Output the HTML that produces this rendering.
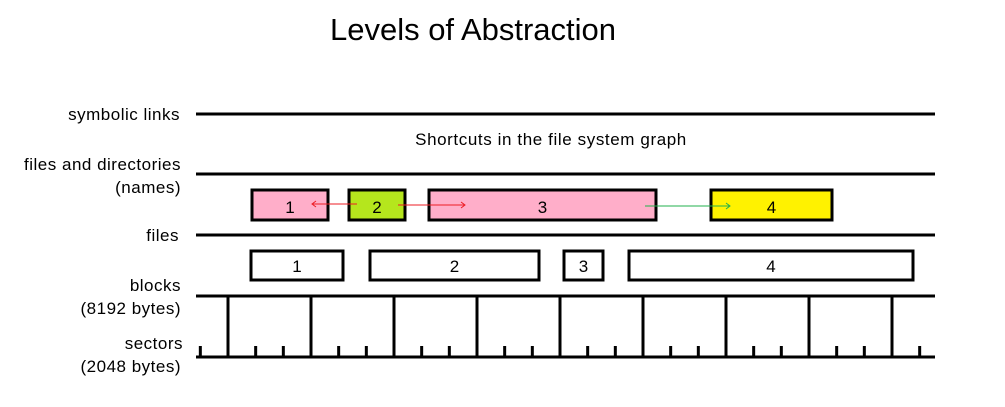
<!DOCTYPE html>
<html><head><meta charset="utf-8"><style>
html,body{margin:0;padding:0;background:#fff;width:1005px;height:407px;overflow:hidden}
svg{display:block;font-family:"Liberation Sans",sans-serif}
</style></head><body>
<svg id="chart" width="1005" height="407" viewBox="0 0 1005 407">
<text x="473" y="40" font-size="31" text-anchor="middle" fill="#000">Levels of Abstraction</text>
<g id="labels" font-size="17" fill="#000" text-anchor="end" letter-spacing="0.5">
<text x="180" y="120">symbolic links</text>
<text x="181" y="170">files and directories</text>
<text x="181" y="193">(names)</text>
<text x="179" y="241">files</text>
<text x="181" y="291">blocks</text>
<text x="181" y="314">(8192 bytes)</text>
<text x="183" y="349">sectors</text>
<text x="181" y="372">(2048 bytes)</text>
</g>
<text x="551" y="145" font-size="17" letter-spacing="0.6" text-anchor="middle">Shortcuts in the file system graph</text>
<g id="g"></g>
</svg>
<script>
const levelLinesY=[114,174,235,296,357];
const fileLabels=["1","2","3","4"];
const fileStart=[252,349,429,711];
const fileEnd=[328,405,656,832];
const fileColors=["#ffaec9","#b5e61d","#ffaec9","#fff200"];
const blockLabels=["1","2","3","4"];
const blockStart=[251,370,564,629];
const blockEnd=[343,539,603,913];
const blockCount=9, sectorsPerBlock=3;
const ns="http://www.w3.org/2000/svg";
const g=document.getElementById('g');
function mk(t,a){const e=document.createElementNS(ns,t);for(const k in a)e.setAttribute(k,a[k]);g.appendChild(e);return e;}
levelLinesY.forEach((y,i)=>{const l=mk('line',{x1:196,x2:935,y1:y,y2:y,stroke:'#000','stroke-width':3});

});
const bw=83;
for(let i=0;i<blockCount;i++){const x=228+i*bw;
const l=mk('line',{x1:x,x2:x,y1:296,y2:357,stroke:'#000','stroke-width':3});

}
for(let i=-1;i<blockCount;i++){for(let s=1;s<=2;s++){const x=228+i*bw+s*bw/sectorsPerBlock;if(x<196||x>935)continue;
const l=mk('line',{x1:x,x2:x,y1:346,y2:357,stroke:'#000','stroke-width':3});

}}
fileLabels.forEach((lab,i)=>{const r=mk('rect',{x:fileStart[i],y:190,width:fileEnd[i]-fileStart[i],height:30,fill:fileColors[i],stroke:'#000','stroke-width':3});


const t=mk('text',{x:(fileStart[i]+fileEnd[i])/2,y:213,'font-size':17,'text-anchor':'middle'});t.textContent=lab;

});
blockLabels.forEach((lab,i)=>{const r=mk('rect',{x:blockStart[i],y:251,width:blockEnd[i]-blockStart[i],height:29,fill:'#fff',stroke:'#000','stroke-width':3});


const t=mk('text',{x:(blockStart[i]+blockEnd[i])/2,y:272,'font-size':17,'text-anchor':'middle'});t.textContent=lab;

});
function arrow(x1,x2,y,c,name){const l=mk('line',{x1:x1,x2:x2,y1:y,y2:y,stroke:c,'stroke-width':1});


const d=x2>x1?-4:4;const p=mk('polyline',{points:`${x2+d},${y-3} ${x2},${y} ${x2+d},${y+3}`,fill:'none',stroke:c,'stroke-width':1});

}
arrow(357,312,204,'#ed1c24','arrow-2-to-1');
arrow(398,465,205,'#ed1c24','arrow-2-to-3');
arrow(645,730,206,'#22b14c','arrow-3-to-4');
</script>
</body></html>
